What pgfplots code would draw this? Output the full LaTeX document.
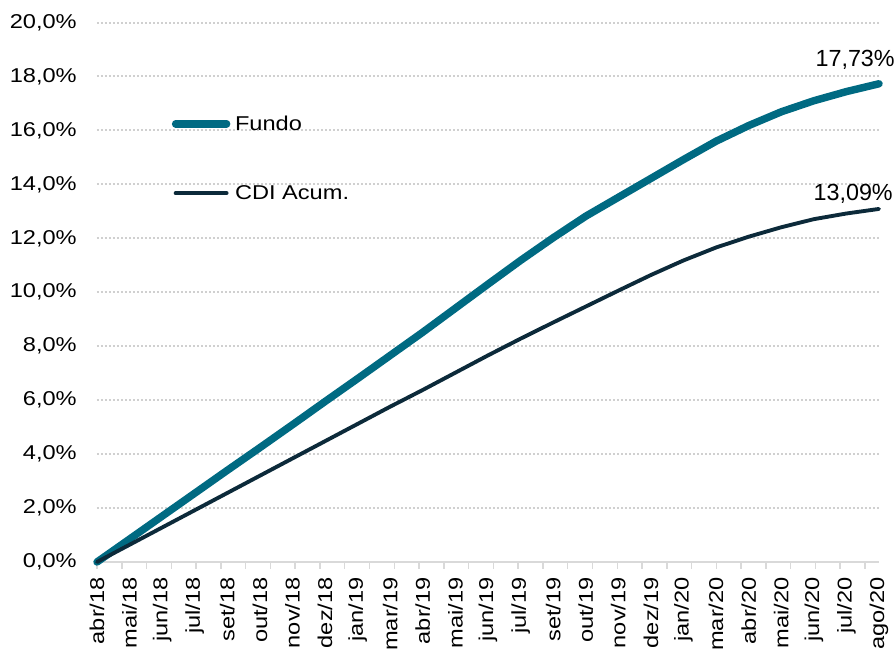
\documentclass[border=0pt]{standalone}
\usepackage{fontspec}
\setmainfont{Liberation Sans}[FakeStretch=1.18]
\newfontfamily\labelfont{Liberation Sans}
\usepackage{pgfplots}
\usepackage{pgfplotstable}
\pgfplotsset{compat=1.18}
\definecolor{fundo}{RGB}{0,106,130}
\definecolor{cdi}{RGB}{12,42,58}
\definecolor{gridc}{RGB}{208,208,208}
\definecolor{axc}{RGB}{217,217,217}

\pgfplotstableread{
u v
0 0
1 0.85
2 1.70
3 2.55
4 3.40
5 4.24
6 5.09
7 5.95
8 6.80
9 7.66
10 8.52
11 9.41
12 10.30
13 11.18
14 12.02
15 12.82
16 13.52
17 14.22
18 14.92
19 15.60
20 16.18
21 16.69
22 17.10
23 17.44
24 17.73
}\fundotab

\pgfplotstableread{
u v
0 0
1 0.64
2 1.28
3 1.92
4 2.56
5 3.20
6 3.84
7 4.48
8 5.12
9 5.76
10 6.38
11 7.02
12 7.66
13 8.28
14 8.88
15 9.47
16 10.06
17 10.64
18 11.18
19 11.66
20 12.06
21 12.41
22 12.71
23 12.92
24 13.09
}\cditab

\begin{document}
\begin{tikzpicture}
\begin{axis}[
  at={(72.75pt,66.75pt)}, anchor=south west,
  scale only axis, width=586.5pt, height=404.6pt,
  xmin=0, xmax=24, ymin=0, ymax=20,
  clip=false,
  axis x line*=bottom, axis y line*=left,
  y axis line style={draw=none},
  x axis line style={draw=axc, line width=1.2pt},
  xtick={0,...,24},
  xticklabels={abr/18,mai/18,jun/18,jul/18,set/18,out/18,nov/18,dez/18,jan/19,mar/19,abr/19,mai/19,jun/19,jul/19,set/19,out/19,nov/19,dez/19,jan/20,mar/20,abr/20,mai/20,jun/20,jul/20,ago/20},
  minor xtick={0,0.7603,...,23.6},
  ytick={0,2,...,20},
  yticklabels={{0,0\%},{2,0\%},{4,0\%},{6,0\%},{8,0\%},{10,0\%},{12,0\%},{14,0\%},{16,0\%},{18,0\%},{20,0\%}},
  major tick length=0pt, minor tick length=5pt, tick align=outside,
  major tick style={draw=none},
  minor tick style={draw=axc, line width=1.1pt},
  ymajorgrids,
  grid style={draw=gridc, line width=1.5pt, dash pattern=on 1.5pt off 1.5pt},
  tick label style={font=\fontsize{15}{18}\selectfont, text=black, inner sep=0pt},
  xticklabel style={rotate=90, anchor=east},
  yticklabel style={anchor=east},
  xticklabel shift=11.25pt, yticklabel shift=15pt,
  legend style={at={(axis cs:2.29,16.56)}, anchor=north west, draw=none, fill=none,
    inner sep=0pt, row sep=39.85pt, column sep=3.5pt,
    nodes={inner sep=0pt}, font=\fontsize{15}{18}\selectfont},
  legend cell align=left,
  legend image code/.code={\draw[#1] (0pt,0pt) -- (38.25pt,0pt);},
]
\addplot[color=fundo, line width=5.6pt, line cap=round, line join=round] table[x=u, y=v] {\fundotab};
\addlegendentry{Fundo}
\addplot[color=cdi, line width=2.9pt, line cap=round, line join=round] table[x=u, y=v] {\cditab};
\addlegendentry{CDI Acum.}
\node[anchor=base east, inner sep=0pt, font=\labelfont\fontsize{17.5}{20}\selectfont] at (axis cs:24.49,18.36) {17,73\%};
\node[anchor=base east, inner sep=0pt, font=\labelfont\fontsize{17.5}{20}\selectfont] at (axis cs:24.43,13.42) {13,09\%};
\end{axis}
\pgfresetboundingbox
\path (0pt,0pt) rectangle (672pt,488.25pt);
\end{tikzpicture}
\end{document}
